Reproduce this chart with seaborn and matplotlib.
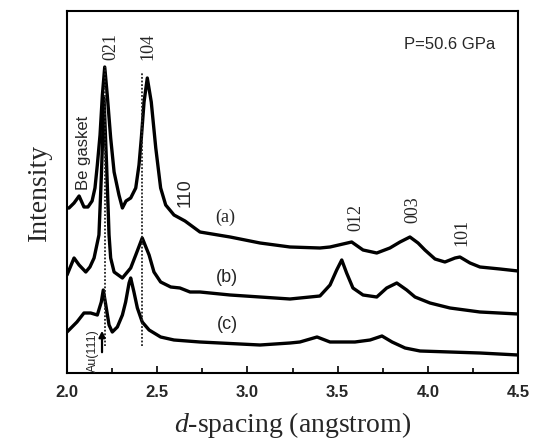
import matplotlib
matplotlib.use("Agg")
import matplotlib.pyplot as plt
import seaborn as sns
import pandas as pd

# d-spacing (angstrom) and stacked intensities (arbitrary units, offset per pattern)
d_a = [2.000, 2.011, 2.039, 2.067, 2.094, 2.116, 2.139, 2.155, 2.168, 2.183,
       2.196, 2.209, 2.223, 2.242, 2.261, 2.288, 2.307, 2.327, 2.353, 2.381,
       2.399, 2.412, 2.427, 2.445, 2.467, 2.492, 2.519, 2.547, 2.593, 2.654,
       2.737, 2.904, 3.070, 3.236, 3.402, 3.458, 3.578, 3.641, 3.717, 3.790,
       3.846, 3.901, 3.946, 3.984, 4.040, 4.095, 4.151, 4.178, 4.234, 4.289,
       4.400, 4.500]
int_a = [165, 165, 170, 177, 166, 166, 172, 185, 208, 238,
         278, 306, 278, 235, 201, 178, 165, 172, 175, 185,
         208, 235, 271, 295, 271, 225, 185, 168, 158, 152,
         141, 136, 130, 126, 125, 126, 131, 123, 120, 125,
         131, 136, 130, 123, 114, 111, 115, 116, 110, 106,
         104, 102]

d_b = [2.000, 2.039, 2.067, 2.104, 2.127, 2.150, 2.177, 2.191, 2.205, 2.219,
       2.233, 2.242, 2.261, 2.307, 2.353, 2.381, 2.417, 2.455, 2.482, 2.519,
       2.575, 2.626, 2.682, 2.737, 2.904, 3.070, 3.236, 3.402, 3.458, 3.495,
       3.523, 3.550, 3.585, 3.641, 3.717, 3.772, 3.828, 3.883, 3.929, 4.012,
       4.123, 4.289, 4.500]
int_b = [98, 115, 108, 101, 106, 115, 138, 200, 275, 210,
         138, 115, 101, 95, 105, 118, 135, 118, 101, 91,
         86, 85, 81, 81, 78, 76, 74, 77, 88, 103,
         113, 100, 85, 78, 76, 85, 90, 83, 76, 70,
         65, 61, 59]

d_c = [2.000, 2.055, 2.094, 2.131, 2.168, 2.190, 2.201, 2.215, 2.233, 2.251,
       2.279, 2.307, 2.325, 2.344, 2.353, 2.371, 2.390, 2.417, 2.455, 2.519,
       2.593, 2.737, 2.848, 3.070, 3.236, 3.291, 3.386, 3.458, 3.541, 3.596,
       3.680, 3.746, 3.802, 3.874, 3.957, 4.123, 4.289, 4.500]
int_c = [41, 51, 60, 60, 58, 71, 83, 68, 48, 41,
         46, 58, 71, 90, 95, 81, 65, 51, 43, 36,
         33, 31, 30, 28, 30, 31, 36, 31, 31, 31,
         33, 37, 31, 25, 22, 21, 20, 18]

pattern_labels = ["(a)", "(b)", "(c)"]
label_pos = [(2.876, 156), (2.887, 95), (2.887, 48)]

peak_labels = ["021", "104", "110", "012", "003", "101"]
peak_pos = [(2.244, 326), (2.449, 326), (2.654, 180), (3.602, 155), (3.918, 163), (4.190, 141)]
peak_sans = [False, False, True, False, False, False]

marker_lines = [2.210, 2.417]
marker_top = [306, 301]
marker_bottom = 27
pressure_text = "P=50.6 GPa"
xticks = [2.0, 2.5, 3.0, 3.5, 4.0, 4.5]
xtick_labels = ["2.0", "2.5", "3.0", "3.5", "4.0", "4.5"]

frames = []
for name, d, y in [("a", d_a, int_a), ("b", d_b, int_b), ("c", d_c, int_c)]:
    frames.append(pd.DataFrame({"d": d, "intensity": y, "pattern": name}))
df = pd.concat(frames, ignore_index=True)

sns.set_style("white")
plt.rcParams["font.family"] = ["Liberation Serif", "DejaVu Serif"]
plt.rcParams["mathtext.fontset"] = "custom"
plt.rcParams["mathtext.rm"] = "Liberation Serif"
plt.rcParams["mathtext.it"] = "Liberation Serif:italic"

SANS = ["Liberation Sans", "DejaVu Sans"]
SERIF = ["Liberation Serif", "DejaVu Serif"]

fig = plt.figure(figsize=(5.37, 4.45), dpi=100)
ax = fig.add_axes([0.1248, 0.1618, 0.8398, 0.8135])

sns.lineplot(data=df, x="d", y="intensity", units="pattern", estimator=None,
             color="black", linewidth=2.4, sort=False, ax=ax,
             solid_joinstyle="round", solid_capstyle="round")

for x0, top in zip(marker_lines, marker_top):
    ax.vlines(x0, marker_bottom, top, colors="#222222", linestyles=(0, (1, 1)), linewidth=1.3)

ax.annotate("", xy=(2.194, 45), xytext=(2.194, 18),
            arrowprops=dict(arrowstyle="-|>", color="black", lw=1.6, mutation_scale=9))
ax.text(2.144, 22, "Au(111)", rotation=90, ha="center", va="center",
        fontsize=9, family=SANS)

ax.text(2.089, 220, "Be gasket", rotation=90, ha="center", va="center",
        fontsize=12, family=SANS)

for lab, (x, y), sans in zip(peak_labels, peak_pos, peak_sans):
    ax.text(x, y, lab, rotation=90, ha="center", va="center", fontsize=13,
            family=SANS if sans else SERIF)

for i, (lab, (x, y)) in enumerate(zip(pattern_labels, label_pos)):
    ax.text(x, y, lab, ha="center", va="center", fontsize=13,
            family=SERIF if i == 0 else SANS)

ax.text(4.123, 328, pressure_text, ha="center", va="center", fontsize=12, family=SANS)

ax.set_xlim(2.0, 4.5)
ax.set_ylim(0, 362)
ax.set_xticks(xticks)
ax.set_xticklabels(xtick_labels, fontsize=12, fontweight="bold", family=SANS)
ax.set_xticks([2.25, 2.75, 3.25, 3.75, 4.25], minor=True)
ax.set_yticks([])
ax.tick_params(axis="x", which="major", direction="in", length=5, width=1.4, pad=9, bottom=True)
ax.tick_params(axis="x", which="minor", direction="in", length=3.5, width=1.4, bottom=True)

for s in ax.spines.values():
    s.set_linewidth(1.5)
    s.set_color("black")

ax.set_xlabel("$d$-spacing (angstrom)", fontsize=20, labelpad=7)
ax.set_ylabel("Intensity", fontsize=20, labelpad=11)

fig.savefig("out.png", dpi=100)
